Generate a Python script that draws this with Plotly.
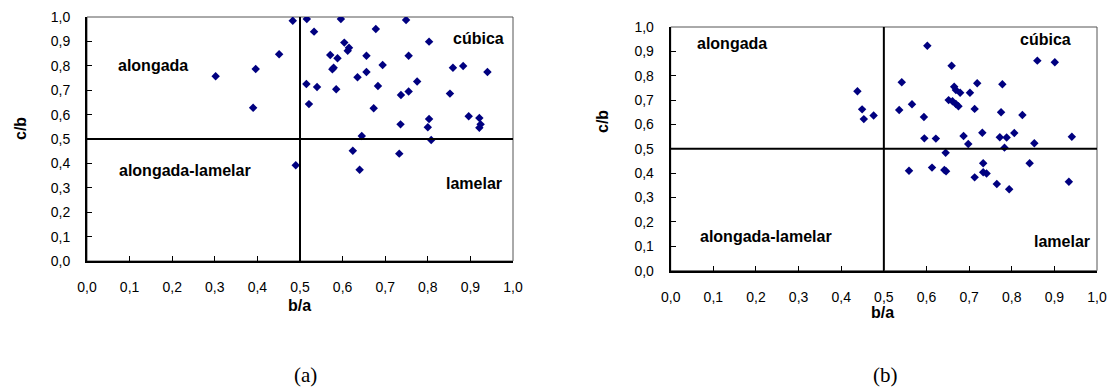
import plotly.graph_objects as go

# ---- data ----
tick_vals = [0.0, 0.1, 0.2, 0.3, 0.4, 0.5, 0.6, 0.7, 0.8, 0.9, 1.0]
tick_text = ["0,0", "0,1", "0,2", "0,3", "0,4", "0,5", "0,6", "0,7", "0,8", "0,9", "1,0"]

a_ba = [0.302, 0.390, 0.396, 0.451, 0.483, 0.490, 0.516, 0.596, 0.749, 0.533, 0.678,
        0.604, 0.615, 0.612, 0.803, 0.571, 0.588, 0.656, 0.755, 0.694, 0.576, 0.579,
        0.656, 0.635, 0.859, 0.883, 0.940, 0.515, 0.540, 0.585, 0.683, 0.775, 0.755,
        0.737, 0.852, 0.521, 0.673, 0.896, 0.921, 0.924, 0.921, 0.803, 0.800, 0.736,
        0.645, 0.808, 0.624, 0.733, 0.640]
a_cb = [0.757, 0.628, 0.787, 0.847, 0.985, 0.392, 0.992, 0.992, 0.988, 0.940, 0.951,
        0.895, 0.874, 0.862, 0.899, 0.844, 0.831, 0.841, 0.841, 0.803, 0.786, 0.792,
        0.775, 0.753, 0.792, 0.799, 0.775, 0.725, 0.713, 0.704, 0.717, 0.736, 0.695,
        0.680, 0.686, 0.643, 0.626, 0.593, 0.586, 0.560, 0.546, 0.582, 0.548, 0.560,
        0.512, 0.496, 0.452, 0.440, 0.374]

b_ba = [0.438, 0.449, 0.453, 0.476, 0.602, 0.659, 0.860, 0.901, 0.542, 0.665, 0.669,
        0.679, 0.702, 0.719, 0.778, 0.566, 0.536, 0.652, 0.661, 0.669, 0.675, 0.713,
        0.775, 0.825, 0.594, 0.595, 0.622, 0.687, 0.698, 0.731, 0.772, 0.788, 0.806,
        0.853, 0.941, 0.783, 0.645, 0.559, 0.613, 0.642, 0.646, 0.733, 0.733, 0.741,
        0.713, 0.765, 0.794, 0.842, 0.934]
b_cb = [0.736, 0.662, 0.622, 0.637, 0.923, 0.841, 0.862, 0.855, 0.773, 0.755, 0.741,
        0.730, 0.730, 0.769, 0.765, 0.683, 0.659, 0.700, 0.695, 0.684, 0.675, 0.664,
        0.650, 0.639, 0.631, 0.543, 0.542, 0.553, 0.520, 0.566, 0.548, 0.547, 0.565,
        0.523, 0.550, 0.505, 0.484, 0.410, 0.423, 0.413, 0.408, 0.441, 0.404, 0.399,
        0.383, 0.356, 0.334, 0.441, 0.365]

region_labels = ["alongada", "cúbica", "alongada-lamelar", "lamelar"]
a_label_pos = [(0.156, 0.803), (0.920, 0.910), (0.230, 0.370), (0.909, 0.316)]
b_label_pos = [(0.144, 0.933), (0.880, 0.947), (0.224, 0.142), (0.919, 0.119)]

x_title = "b/a"
y_title = "c/b"
captions = ["(a)", "(b)"]

W, H = 1112, 392
def px(v): return v / W
def py(v): return 1 - v / H

fig = go.Figure()
marker = dict(symbol="diamond", size=6.5, color="#000080", line=dict(width=0))
fig.add_trace(go.Scatter(x=a_ba, y=a_cb, mode="markers", marker=marker,
                         xaxis="x", yaxis="y", showlegend=False, hoverinfo="skip"))
fig.add_trace(go.Scatter(x=b_ba, y=b_cb, mode="markers", marker=marker,
                         xaxis="x2", yaxis="y2", showlegend=False, hoverinfo="skip"))

SANS = "Liberation Sans, Arial, sans-serif"
tickfont = dict(family=SANS, size=14, color="black")
def xax(domain, anchor):
    return dict(domain=domain, anchor=anchor, range=[0, 1], tickvals=tick_vals, ticktext=tick_text,
                showgrid=False, zeroline=False, showline=True, linecolor="black", linewidth=2,
                ticks="inside", ticklen=5, tickcolor="black", tickwidth=1, automargin=False,
                tickfont=tickfont, ticklabelstandoff=12, fixedrange=True)
def yax(domain, anchor):
    return dict(domain=domain, anchor=anchor, range=[0, 1], tickvals=tick_vals, ticktext=tick_text,
                showgrid=False, zeroline=False, showline=True, linecolor="black", linewidth=2,
                ticks="inside", ticklen=5, tickcolor="black", tickwidth=1, automargin=False,
                tickfont=tickfont, ticklabelstandoff=12, fixedrange=True)

fig.update_layout(
    template="none",
    width=W, height=H, margin=dict(l=0, r=0, t=0, b=0, autoexpand=False),
    paper_bgcolor="white", plot_bgcolor="white",
    xaxis=xax([px(87), px(513)], "y"),
    yaxis=yax([py(261), py(17)], "x"),
    xaxis2=xax([px(670.7), px(1097)], "y2"),
    yaxis2=yax([py(270.7), py(27)], "x2"),
)

shapes = []
for xr, yr in (("x", "y"), ("x2", "y2")):
    shapes.append(dict(type="rect", xref=xr + " domain", yref=yr + " domain", x0=0, x1=1, y0=0, y1=1,
                       line=dict(color="#555555", width=1), layer="below"))
    shapes.append(dict(type="line", xref=xr, yref=yr + " domain", x0=0.5, x1=0.5, y0=0, y1=1,
                       line=dict(color="black", width=2)))
    shapes.append(dict(type="line", xref=xr + " domain", yref=yr, x0=0, x1=1, y0=0.5, y1=0.5,
                       line=dict(color="black", width=2)))
fig.update_layout(shapes=shapes)

annfont = dict(family=SANS, size=16, color="black")
anns = []
for (xr, yr), pos in ((("x", "y"), a_label_pos), (("x2", "y2"), b_label_pos)):
    for txt, (xv, yv) in zip(region_labels, pos):
        anns.append(dict(x=xv, y=yv, xref=xr, yref=yr, text="<b>%s</b>" % txt, showarrow=False,
                         font=annfont, xanchor="center", yanchor="middle"))

# axis titles
titlefont = dict(family=SANS, size=16, color="black")
anns.append(dict(x=px(299), y=py(305), xref="paper", yref="paper", text="<b>%s</b>" % x_title,
                 showarrow=False, font=titlefont, xanchor="center", yanchor="middle"))
anns.append(dict(x=px(883), y=py(312), xref="paper", yref="paper", text="<b>%s</b>" % x_title,
                 showarrow=False, font=titlefont, xanchor="center", yanchor="middle"))
anns.append(dict(x=px(20), y=py(129), xref="paper", yref="paper", text="<b>%s</b>" % y_title,
                 showarrow=False, font=titlefont, textangle=-90, xanchor="center", yanchor="middle"))
anns.append(dict(x=px(602), y=py(122), xref="paper", yref="paper", text="<b>%s</b>" % y_title,
                 showarrow=False, font=titlefont, textangle=-90, xanchor="center", yanchor="middle"))
# captions
capfont = dict(family="Liberation Serif, Times New Roman, serif", size=21, color="black")
anns.append(dict(x=px(305), y=py(375), xref="paper", yref="paper", text=captions[0],
                 showarrow=False, font=capfont, xanchor="center", yanchor="middle"))
anns.append(dict(x=px(885), y=py(375), xref="paper", yref="paper", text=captions[1],
                 showarrow=False, font=capfont, xanchor="center", yanchor="middle"))
fig.update_layout(annotations=anns)

fig.write_html("out.html", config={"displayModeBar": False, "staticPlot": True},
               post_script="document.body.style.margin='0';document.body.style.overflow='hidden';")
